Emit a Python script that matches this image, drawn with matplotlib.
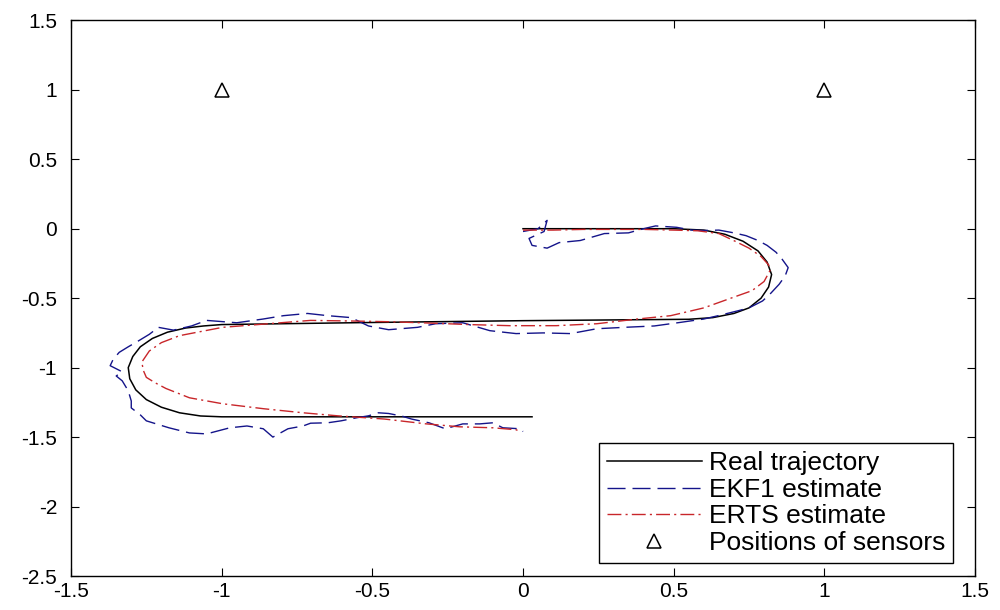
import matplotlib
matplotlib.use('Agg')
import matplotlib.pyplot as plt
import numpy as np

# real trajectory
real_x = [0.0, 0.25, 0.5, 0.6, 0.67, 0.73, 0.78, 0.81, 0.825, 0.815, 0.79, 0.75,
          0.70, 0.63, 0.55, 0.0, -0.5, -1.0, -1.06, -1.12, -1.18, -1.23, -1.27,
          -1.295, -1.31, -1.305, -1.285, -1.25, -1.20, -1.14, -1.07, -1.0, -0.5,
          0.03]
real_y = [0.0, 0.0, 0.0, -0.01, -0.04, -0.09, -0.16, -0.24, -0.33, -0.42, -0.50,
          -0.57, -0.61, -0.64, -0.652, -0.662, -0.675, -0.69, -0.70, -0.715, -0.745,
          -0.79, -0.85, -0.92, -1.0, -1.08, -1.16, -1.23, -1.285, -1.325, -1.348,
          -1.354, -1.354, -1.354]

# EKF1 estimate
ekf_x = [0.0, 0.05, 0.08, 0.07, 0.02, 0.03, 0.08, 0.12, 0.19, 0.23, 0.27, 0.35,
         0.40, 0.44, 0.51, 0.56, 0.60, 0.65, 0.70, 0.74, 0.78, 0.81, 0.84, 0.86,
         0.88, 0.87, 0.85, 0.82, 0.795, 0.75, 0.715, 0.648, 0.60, 0.52, 0.436,
         0.336, 0.245, 0.158, 0.067, -0.023, -0.11, -0.20, -0.29, -0.35, -0.446,
         -0.513, -0.57, -0.648, -0.715, -0.795, -0.862, -0.95, -1.05, -1.10, -1.16,
         -1.21, -1.24, -1.275, -1.31, -1.34, -1.36, -1.37, -1.33, -1.35, -1.33,
         -1.31, -1.30, -1.30, -1.27, -1.25, -1.175, -1.107, -1.05, -0.973, -0.916,
         -0.862, -0.83, -0.78, -0.73, -0.705, -0.648, -0.604, -0.55, -0.513,
         -0.48, -0.446, -0.40, -0.37, -0.312, -0.258, -0.20, -0.144, -0.10,
         -0.067, -0.01, 0.0]
ekf_y = [-0.02, 0.0, 0.06, -0.02, -0.07, -0.12, -0.14, -0.10, -0.085, -0.06,
         -0.035, -0.03, 0.0, 0.02, 0.01, -0.01, -0.013, -0.01, -0.03, -0.05,
         -0.085, -0.12, -0.17, -0.22, -0.28, -0.34, -0.40, -0.47, -0.52, -0.57,
         -0.59, -0.626, -0.65, -0.675, -0.70, -0.71, -0.72, -0.755, -0.75, -0.755,
         -0.734, -0.677, -0.684, -0.71, -0.727, -0.70, -0.64, -0.626, -0.61,
         -0.626, -0.65, -0.677, -0.66, -0.70, -0.73, -0.71, -0.76, -0.806, -0.85,
         -0.89, -0.94, -0.986, -1.03, -1.06, -1.095, -1.167, -1.24, -1.29, -1.34,
         -1.383, -1.433, -1.47, -1.477, -1.433, -1.42, -1.44, -1.50, -1.44, -1.42,
         -1.40, -1.397, -1.383, -1.36, -1.347, -1.325, -1.33, -1.35, -1.37, -1.397,
         -1.44, -1.405, -1.405, -1.397, -1.433, -1.44, -1.46]

# ERTS estimate
erts_x = [0.0, 0.1, 0.2, 0.3, 0.4, 0.5, 0.58, 0.65, 0.70, 0.75, 0.79, 0.815, 0.82,
          0.80, 0.76, 0.69, 0.60, 0.49, 0.38, 0.245, 0.11, -0.044, -0.18, -0.30,
          -0.436, -0.55, -0.705, -0.88, -0.997, -1.107, -1.14, -1.20, -1.24,
          -1.265, -1.26, -1.25, -1.22, -1.185, -1.107, -0.997, -0.86, -0.73,
          -0.614, -0.46, -0.325, -0.21, -0.10, -0.023, -0.01]
erts_y = [-0.01, -0.01, -0.005, -0.005, -0.005, -0.01, -0.015, -0.035, -0.086,
          -0.14, -0.20, -0.26, -0.30, -0.38, -0.446, -0.50, -0.57, -0.626, -0.65,
          -0.684, -0.698, -0.698, -0.69, -0.68, -0.67, -0.665, -0.66, -0.69,
          -0.71, -0.756, -0.77, -0.82, -0.88, -0.96, -1.02, -1.07, -1.11, -1.15,
          -1.217, -1.26, -1.296, -1.325, -1.347, -1.37, -1.404, -1.426, -1.433,
          -1.447, -1.46]

sensor_x = [-1, 1]
sensor_y = [1, 1]

x_ticks = [-1.5, -1, -0.5, 0, 0.5, 1, 1.5]
y_ticks = [-2.5, -2, -1.5, -1, -0.5, 0, 0.5, 1, 1.5]
tick_labels_x = ['-1.5', '-1', '-0.5', '0', '0.5', '1', '1.5']
tick_labels_y = ['-2.5', '-2', '-1.5', '-1', '-0.5', '0', '0.5', '1', '1.5']

plt.rcParams['font.family'] = ['Liberation Sans', 'DejaVu Sans']

fig = plt.figure(figsize=(10, 6.1), dpi=100)
ax = fig.add_axes([0.071, 0.0557, 0.904, 0.911])

ax.plot(real_x, real_y, '-', color='black', linewidth=1.1, label='Real trajectory')
ax.plot(ekf_x, ekf_y, '--', color='#14148a', linewidth=1.0, dashes=(13, 5),
        label='EKF1 estimate')
ax.plot(erts_x, erts_y, '-.', color='#c8262a', linewidth=1.0, dashes=(10, 3, 1.5, 3),
        label='ERTS estimate')
ax.plot(sensor_x, sensor_y, '^', color='black', markerfacecolor='none',
        markersize=10, markeredgewidth=1.1, linestyle='none',
        label='Positions of sensors')

ax.set_xlim(-1.5, 1.5)
ax.set_ylim(-2.5, 1.5)
ax.set_xticks(x_ticks)
ax.set_xticklabels(tick_labels_x)
ax.set_yticks(y_ticks)
ax.set_yticklabels(tick_labels_y)
ax.tick_params(direction='in', length=6, width=0.8, top=True, right=True,
               labelsize=15)
ax.tick_params(axis='x', pad=4)
ax.tick_params(axis='y', pad=10)
for spine in ax.spines.values():
    spine.set_linewidth(1.0)

leg = ax.legend(loc='lower right', bbox_to_anchor=(0.9757, 0.0234),
                fontsize=19, handlelength=3.6, handletextpad=0.27,
                labelspacing=0.1, borderpad=0.3, borderaxespad=0.0,
                fancybox=False, framealpha=1.0, edgecolor='black')
leg.get_frame().set_linewidth(1.0)

plt.savefig('out.png', dpi=100)
